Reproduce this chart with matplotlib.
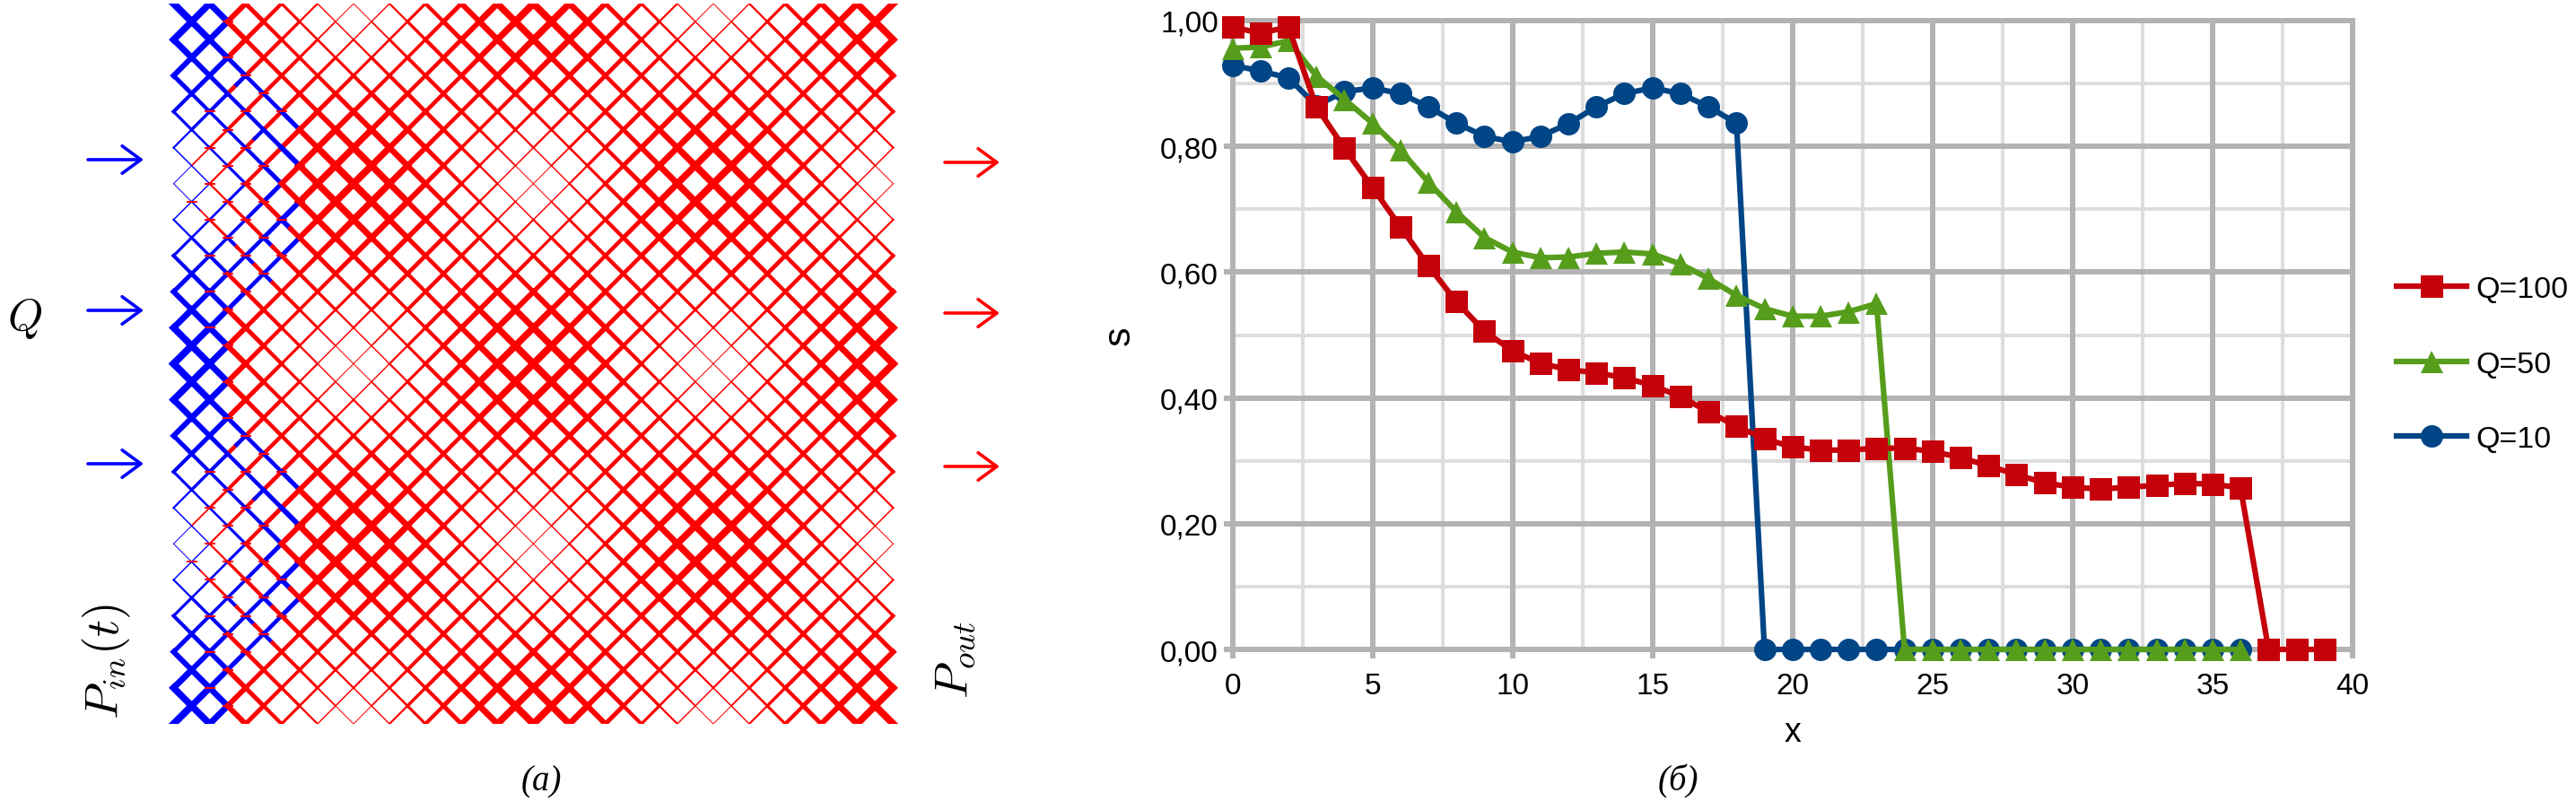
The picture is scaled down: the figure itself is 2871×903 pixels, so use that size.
import matplotlib
matplotlib.use("Agg")
import matplotlib.pyplot as plt
from matplotlib.collections import LineCollection

W, H = 2871, 904
plt.rcParams['font.family'] = ['Liberation Sans', 'DejaVu Sans']
plt.rcParams['mathtext.fontset'] = 'cm'

# --- right chart: saturation s along x ---
x_q100 = list(range(40))
s_q100 = [.990, .980, .990, .863, .797, .735, .672, .610, .553, .506,
          .475, .455, .445, .440, .432, .420, .402, .378, .355, .335,
          .322, .317, .317, .320, .320, .315, .305, .292, .278, .265,
          .258, .255, .258, .261, .264, .263, .257, 0, 0, 0]
x_q50 = list(range(37))
s_q50 = [.956, .958, .968, .912, .875, .837, .794, .743, .696, .655,
         .632, .623, .624, .630, .632, .629, .613, .590, .563, .542,
         .530, .530, .537, .550, 0, 0, 0, 0, 0, 0,
         0, 0, 0, 0, 0, 0, 0]
x_q10 = list(range(37))
s_q10 = [.929, .920, .909, .865, .887, .893, .884, .863, .837, .816,
         .807, .816, .836, .863, .884, .893, .884, .863, .837, 0,
         0, 0, 0, 0, 0, 0, 0, 0, 0, 0,
         0, 0, 0, 0, 0, 0, 0]
x_ticks = [0, 5, 10, 15, 20, 25, 30, 35, 40]
y_ticks = [0, .2, .4, .6, .8, 1]
y_tick_labels = ['0,00', '0,20', '0,40', '0,60', '0,80', '1,00']
x_minor = [2.5, 7.5, 12.5, 17.5, 22.5, 27.5, 32.5, 37.5]
y_minor = [.1, .3, .5, .7, .9]

# --- left picture: channel widths (px), rows 0-9, columns 0-19 ---
# rows 10-19 are the same rows read from the bottom up, the picture repeats every 20 cells
width_rows = [
    [8.0, 7.6, 7.0, 6.0, 5.0, 4.2, 3.2, 2.2, 1.4, 1, 1, 1.4, 2.2, 3.2, 4.2, 5.0, 6.0, 7.0, 7.6, 8.0],
    [7.6, 7.3, 6.7, 5.8, 5.0, 4.2, 3.4, 2.6, 1.8, 1.5, 1.5, 1.8, 2.6, 3.4, 4.2, 5.0, 5.8, 6.7, 7.3, 7.6],
    [7.0, 6.7, 6.2, 5.6, 4.9, 4.3, 3.6, 3.0, 2.6, 2.2, 2.2, 2.6, 3.0, 3.6, 4.3, 4.9, 5.6, 6.2, 6.7, 7.0],
    [6.0, 5.8, 5.6, 5.1, 4.7, 4.4, 4.0, 3.6, 3.4, 3.2, 3.2, 3.4, 3.6, 4.0, 4.4, 4.7, 5.1, 5.6, 5.8, 6.0],
    [5.0, 5.0, 4.9, 4.7, 4.5, 4.4, 4.3, 4.2, 4.1, 4.1, 4.1, 4.1, 4.2, 4.3, 4.4, 4.5, 4.7, 4.9, 5.0, 5.0],
    [4.1, 4.1, 4.2, 4.3, 4.4, 4.5, 4.7, 4.9, 5.0, 5.0, 5.0, 5.0, 4.9, 4.7, 4.5, 4.4, 4.3, 4.2, 4.1, 4.1],
    [3.2, 3.4, 3.6, 4.0, 4.4, 4.7, 5.1, 5.6, 5.8, 6.0, 6.0, 5.8, 5.6, 5.1, 4.7, 4.4, 4.0, 3.6, 3.4, 3.2],
    [2.2, 2.6, 3.0, 3.6, 4.3, 4.9, 5.6, 6.2, 6.7, 7.0, 7.0, 6.7, 6.2, 5.6, 4.9, 4.3, 3.6, 3.0, 2.6, 2.2],
    [1.5, 1.8, 2.6, 3.4, 4.2, 5.0, 5.8, 6.7, 7.3, 7.6, 7.6, 7.3, 6.7, 5.8, 5.0, 4.2, 3.4, 2.6, 1.8, 1.5],
    [1, 1.4, 2.2, 3.2, 4.2, 5.0, 6.0, 7.0, 7.6, 8.0, 8.0, 7.6, 7.0, 6.0, 5.0, 4.2, 3.2, 2.2, 1.4, 1],
]
# B blue, R red, L blue then red, M red then blue (left to right), first 8 columns, rest is red
phase_rows = [
    "BBBRRRRR", "BBBRRRRR", "BBBRRRRR", "BBBBRRRR", "BBBMBRRR",
    "BBBBRBRR", "BBBRBRBR", "BBRBMBRR", "BRBRBRBR", "BBRBRBRR",
    "BBRBRBRR", "BLBRBRBR", "BBRBRBLR", "BBBLBLBR", "BBBBLBRR",
    "BBBRBLRR", "BBBBRRRR", "BBBRRRRR", "BBBRRRRR", "BBBRRRRR",
]
# nodes (column, row) with a short red stroke where the fluids meet
red_nodes = [(3, 1), (3, 3), (4, 4), (5, 5), (2, 6), (4, 6), (6, 6), (3, 7), (2, 8), (4, 8),
             (3, 9), (5, 9), (7, 9), (2, 10), (4, 10), (1, 11), (3, 11), (5, 11), (7, 11),
             (2, 12), (4, 12), (6, 12), (3, 13), (5, 13), (2, 14), (4, 14), (6, 14),
             (3, 15), (5, 15), (2, 16), (4, 16), (3, 17), (2, 18), (3, 19)]

fig = plt.figure(figsize=(W / 100, H / 100), dpi=100, facecolor='white')
PX = 72 / 100  # points in one pixel


def rect(x0, y0, x1, y1):
    return [x0 / W, 1 - y1 / H, (x1 - x0) / W, (y1 - y0) / H]


# overlay in pixels for arrows and labels
ov = fig.add_axes([0, 0, 1, 1])
ov.set_xlim(0, W)
ov.set_ylim(H, 0)
ov.axis('off')

# lattice
lat = fig.add_axes(rect(173.45, 5, 1015.55, 808))
lat.set_xlim(-1, 41)
lat.set_ylim(40, 0)
lat.axis('off')

segs, cols, lws = [], [], []
for j in range(40):
    jj = j % 20
    row = width_rows[jj] if jj < 10 else width_rows[19 - jj]
    phases = phase_rows[jj]
    for i in range(40):
        w = row[i % 20] * PX
        if (i + j) % 2 == 0:
            a, b = (i, j), (i + 1, j + 1)
        else:
            a, b = (i, j + 1), (i + 1, j)
        ph = phases[i] if i < len(phases) else 'R'
        mid = ((a[0] + b[0]) / 2, (a[1] + b[1]) / 2)
        if ph == 'L':
            parts = [(a, mid, 'blue'), (mid, b, 'red')]
        elif ph == 'M':
            parts = [(a, mid, 'red'), (mid, b, 'blue')]
        else:
            parts = [(a, b, 'blue' if ph == 'B' else 'red')]
        for p, q, c in parts:
            segs.append([p, q])
            cols.append(c)
            lws.append(w)
lat.add_collection(LineCollection(segs, colors=cols, linewidths=lws, capstyle='projecting'))
for n, m in red_nodes:
    for k in (0, 20):
        lat.hlines(m + k, n - 0.3, n + 0.3, color='red', lw=2 * PX, zorder=3)

# arrows
for y in [179, 347, 518]:
    ov.annotate('', xy=(160, y), xytext=(98, y),
                arrowprops=dict(arrowstyle='->,head_length=0.75,head_width=0.55', color='blue',
                                lw=2.6, shrinkA=0, shrinkB=0, mutation_scale=20))
for y in [182, 350, 521]:
    ov.annotate('', xy=(1114, y), xytext=(1053, y),
                arrowprops=dict(arrowstyle='->,head_length=0.75,head_width=0.55', color='red',
                                lw=2.6, shrinkA=0, shrinkB=0, mutation_scale=20))

ov.text(27, 355, r'$Q$', fontsize=36, ha='center', va='center')
ov.text(119, 737, r'$P_{in}(t)$', fontsize=38, rotation=90, ha='center', va='center')
ov.text(1065, 735, r'$P_{out}$', fontsize=38, rotation=90, ha='center', va='center')
ov.text(603, 872, '(a)', fontsize=28, family=['Liberation Serif'], style='italic', ha='center', va='center')
ov.text(1870, 871, '(б)', fontsize=28, family=['Liberation Serif'], style='italic', ha='center', va='center')

# chart
ax = fig.add_axes(rect(1373.5, 24, 2622, 725))
ax.set_xlim(0, 40)
ax.set_ylim(0, 1)
ax.set_facecolor('none')
ax.vlines(x_minor, 0, 1, color='#dddddd', lw=4 * PX, zorder=0.2)
ax.hlines(y_minor, 0, 40, color='#dddddd', lw=4 * PX, zorder=0.2)
ax.set_axisbelow(True)
ax.grid(True, which='major', color='#b3b3b3', lw=6 * PX)
ax.set_xticks(x_ticks)
ax.set_yticks(y_ticks)
ax.set_yticklabels(y_tick_labels)
ax.tick_params(axis='y', labelsize=24, color='#b3b3b3', width=6 * PX, length=10 * PX, pad=4)
ax.tick_params(axis='x', labelsize=24, color='#b3b3b3', width=6 * PX, length=10 * PX, pad=11)
for s in ax.spines.values():
    s.set_color('#b3b3b3')
    s.set_linewidth(6 * PX)
    s.set_zorder(0.6)

ax.plot(x_q10, s_q10, color='#004586', lw=4.5, marker='o', ms=18, mew=0, clip_on=False, zorder=3, label='Q=10')
ax.plot(x_q50, s_q50, color='#579d1c', lw=4.5, marker='^', ms=18, mew=0, clip_on=False, zorder=4, label='Q=50')
ax.plot(x_q100, s_q100, color='#c5000b', lw=4.5, marker='s', ms=18, mew=0, clip_on=False, zorder=5, label='Q=100')

ax.set_xlabel('x', fontsize=27, labelpad=13)
ax.set_ylabel('s', fontsize=31, labelpad=18)

h, l = ax.get_legend_handles_labels()
fig.legend(h[::-1], l[::-1], frameon=False, fontsize=24.5, loc='center left',
           bbox_to_anchor=(2671 / W, 1 - 407 / H), borderpad=0, borderaxespad=0,
           handlelength=2.3, handletextpad=0.3, labelspacing=1.55, labelcolor='black')

fig.savefig('out.png', dpi=100)
